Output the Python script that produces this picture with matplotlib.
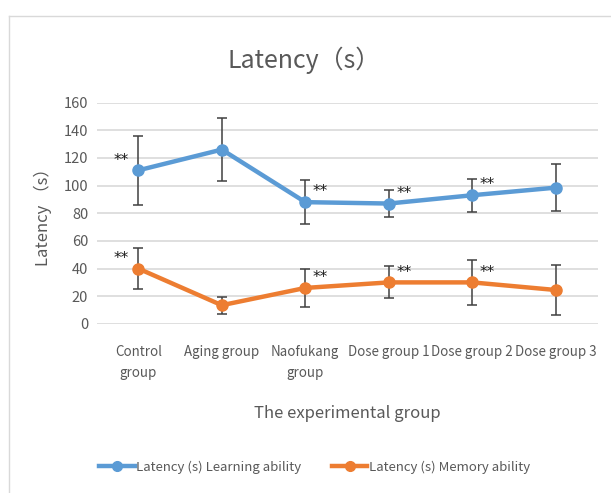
import matplotlib
matplotlib.use("Agg")
from matplotlib import pyplot as plt
from matplotlib.lines import Line2D
import numpy as np

groups = ["Control\ngroup", "Aging group", "Naofukang\ngroup",
          "Dose group 1", "Dose group 2", "Dose group 3"]

learning = [111, 126, 88, 87, 93, 98.5]
learning_err = [25, 23, 16, 10, 12, 17]
memory = [40, 13.5, 26, 30, 30, 24.5]
memory_err = [15, 6, 13.5, 11.5, 16, 18]

# stars: (group index, side)
stars_learning = [(0, "left"), (2, "right"), (3, "right"), (4, "right")]
stars_memory = [(0, "left"), (2, "right"), (3, "right"), (4, "right")]

blue = "#5B9BD5"
orange = "#ED7D31"
grey_txt = "#595959"
plt.rcParams["font.family"] = ["Noto Sans CJK SC", "DejaVu Sans"]

fig = plt.figure(figsize=(6.11, 4.93), dpi=100)
ax = fig.add_axes([0.158, 0.343, 0.82, 0.449])

x = np.arange(len(groups))
for vals, errs, col in [(learning, learning_err, blue), (memory, memory_err, orange)]:
    ax.errorbar(x, vals, yerr=errs, color=col, lw=3.2, marker="o", ms=8,
                ecolor="#404040", elinewidth=1.1, capsize=3.5, capthick=1.1, zorder=3)

for (i, side), vals in [(s, learning) for s in stars_learning] + [(s, memory) for s in stars_memory]:
    dx = -12 if side == "left" else 11
    ax.annotate("**", (x[i], vals[i]), xytext=(dx, 2), textcoords="offset points",
                ha="center", va="bottom", fontsize=11, color="#1a1a1a",
                family="DejaVu Sans", zorder=4)

ax.set_xlim(-0.5, len(groups) - 0.5)
ax.set_ylim(0, 160)
ax.set_yticks(range(0, 161, 20))
ax.yaxis.grid(True, color="#D9D9D9", lw=1.2)
ax.set_axisbelow(True)
for s in ax.spines.values():
    s.set_visible(False)
ax.tick_params(length=0, labelsize=10.5, colors=grey_txt, pad=6)
ax.set_xticks(x)
ax.set_xticklabels(groups, fontsize=9.6, color=grey_txt, linespacing=1.7)
ax.tick_params(axis="x", pad=15)
ax.set_xlabel("The experimental group", fontsize=12, color=grey_txt, labelpad=18)
ax.set_ylabel("Latency （s）", fontsize=12, color=grey_txt, labelpad=8)

fig.text(0.497, 0.877, "Latency（s）", ha="center", va="center", fontsize=18, color=grey_txt)

handles = [Line2D([], [], color=blue, lw=3.2, marker="o", ms=7),
           Line2D([], [], color=orange, lw=3.2, marker="o", ms=7)]
fig.legend(handles, ["Latency (s) Learning ability", "Latency (s) Memory ability"],
           loc="center", bbox_to_anchor=(0.515, 0.053), ncol=2, frameon=False,
           fontsize=9.5, labelcolor=grey_txt, handlelength=2.7, handletextpad=0.1,
           columnspacing=2.3)

fig.add_artist(Line2D([9 / 611, 9 / 611], [0, 1 - 16 / 493], transform=fig.transFigure,
                      color="#D9D9D9", lw=1))
fig.add_artist(Line2D([9 / 611, 1], [1 - 16 / 493, 1 - 16 / 493], transform=fig.transFigure,
                      color="#D9D9D9", lw=1))

fig.savefig("out.png", dpi=100)
